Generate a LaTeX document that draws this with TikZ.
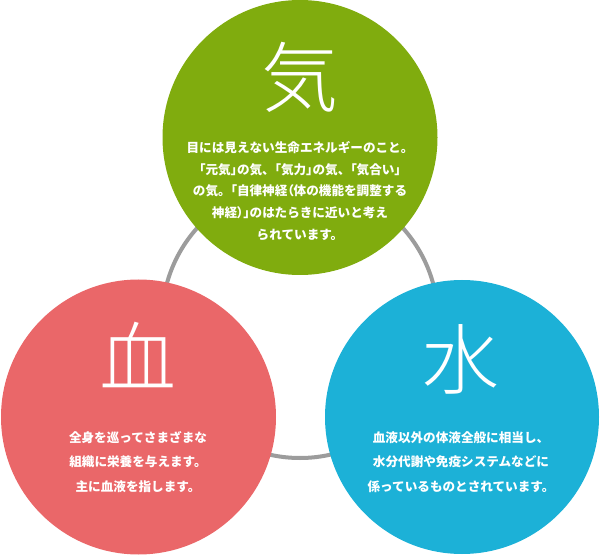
\documentclass[tikz,border=0pt]{standalone}
\usepackage{fontspec}
\newfontfamily\jp{Noto Sans CJK JP}
\newfontfamily\jpp[RawFeature=+palt]{Noto Sans CJK JP}
\IfFontExistsTF{Noto Sans CJK JP Light}
  {\newfontfamily\jpl{Noto Sans CJK JP Light}}
  {\IfFontExistsTF{Noto Sans CJK JP DemiLight}
     {\newfontfamily\jpl{Noto Sans CJK JP DemiLight}}
     {\newfontfamily\jpl{Noto Sans CJK JP}}}
\newcommand\hb[1]{{\jpp #1}}
\definecolor{kigreen}{HTML}{80AC0E}
\definecolor{chired}{HTML}{EA6769}
\definecolor{mizublue}{HTML}{1CB1D7}
\definecolor{ringgray}{HTML}{9C9C9C}
\tikzset{
  disc/.style={circle, inner sep=0pt, minimum size=#1},
  bigchar/.style={text=white, font=\jpl\fontsize{77}{77}\selectfont, inner sep=0pt},
  bodytext/.style={text=white, align=center, inner sep=0pt, font=\jp\bfseries\fontsize{12.6}{#1}\selectfont},
}
\begin{document}
\begin{tikzpicture}[x=1pt,y=-1pt]
\useasboundingbox (0,0) rectangle (600,556);
% ring
\draw[ringgray, line width=4pt] (300,320) circle[radius=138];
% circles
\node[disc=275pt, fill=kigreen] (ki) at (300,137.5) {};
\node[disc=275pt, fill=chired] (chi) at (138.5,417) {};
\node[disc=274pt, fill=mizublue] (mizu) at (462,417) {};
% big characters
\node[bigchar] (kic) at (300,77) {気};
\node[bigchar] (chic) at (138,355) {血};
\node[bigchar] (mizuc) at (461,359) {水};
% texts
\node[bodytext=21.6] (kit) at (300,191) {目には見えない生命エネルギーのこと。\\\hb{「}元気\hb{」}の気、\hb{「}気力\hb{」}の気、\hb{「}気合い\hb{」}\\の気。\hb{「}自律神経\hb{（}体の機能を調整する\\神経\hb{）」}のはたらきに近いと考え\\られています。};
\node[bodytext=24.5] (chit) at (138,462) {全身を巡ってさまざまな\\組織に栄養を与えます。\\主に血液を指します。};
\node[bodytext=24.5] (mizut) at (461,462) {血液以外の体液全般に相当し、\\水分代謝や免疫システムなどに\\係っているものとされています。};
\end{tikzpicture}
\end{document}
